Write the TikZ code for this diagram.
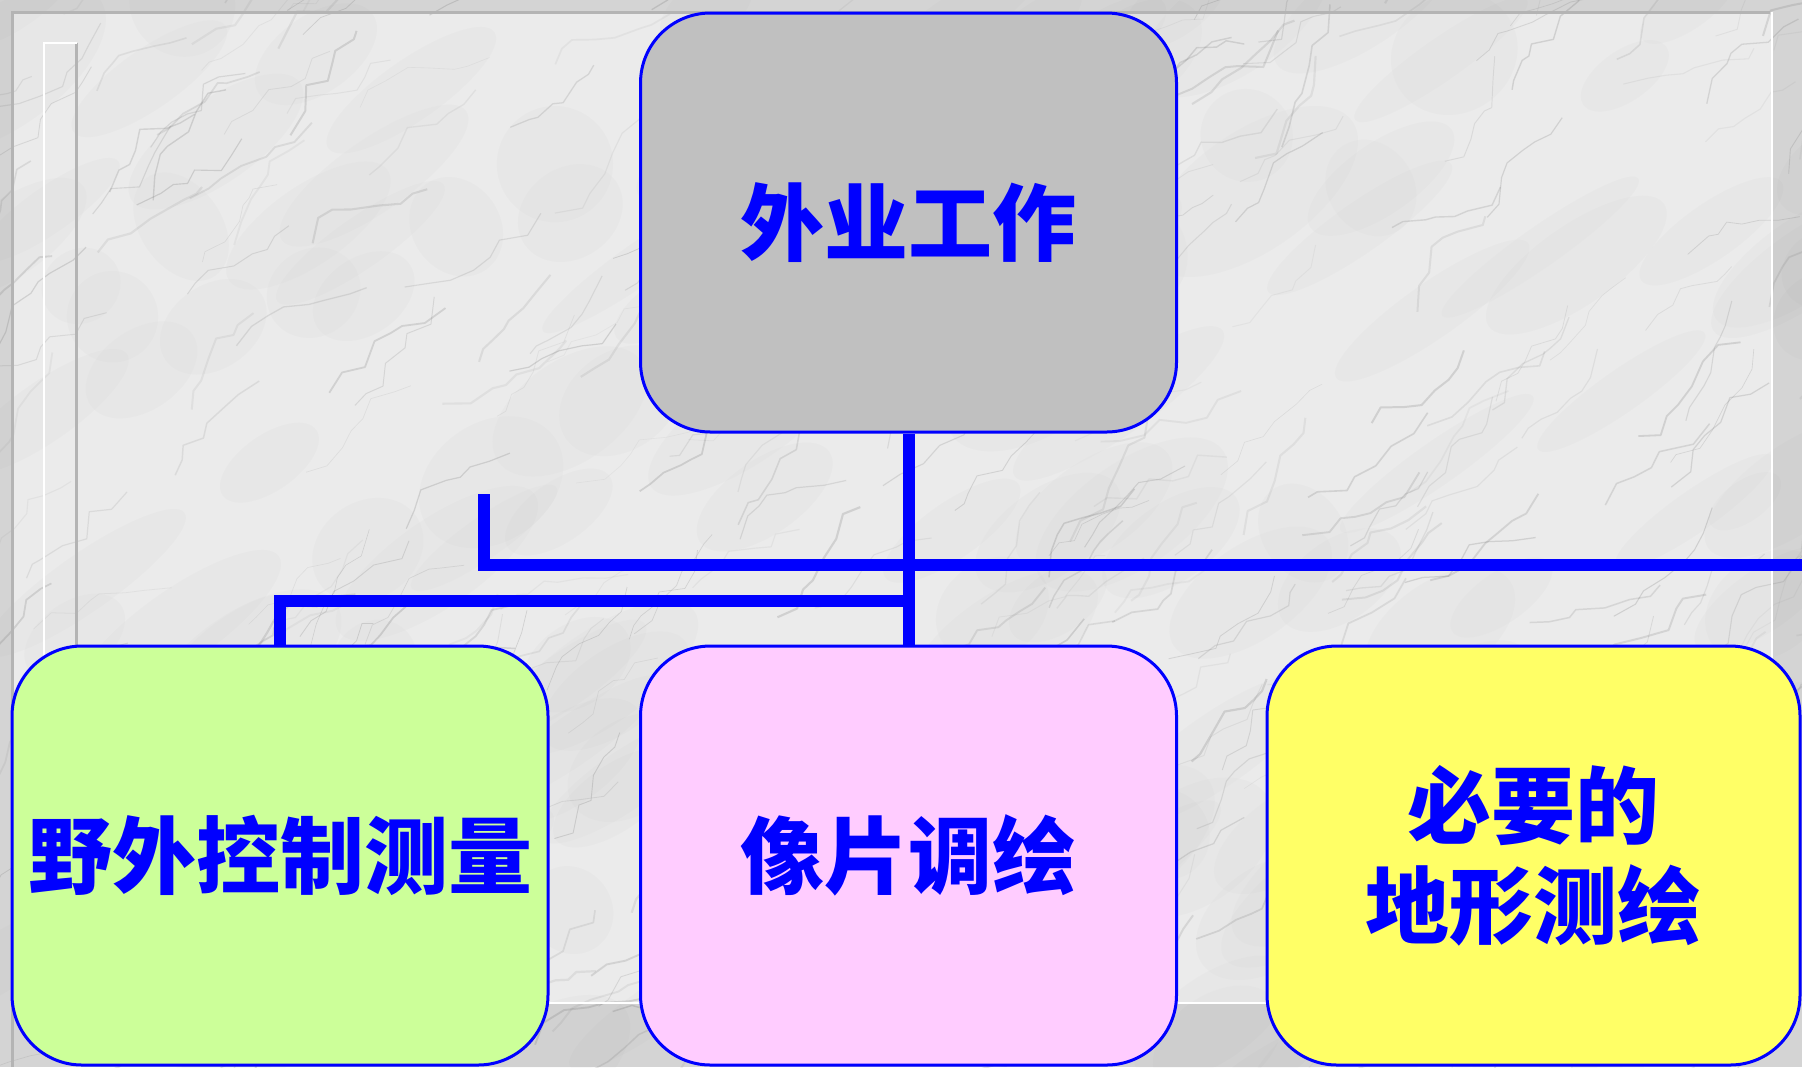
\documentclass[tikz,border=0pt]{standalone}
\usepackage{fontspec}
\newfontfamily\cjk{Noto Sans CJK SC}
\definecolor{outerbg}{HTML}{D4D4D4}
\definecolor{innerbg}{HTML}{EBEBEB}
\definecolor{frameg}{HTML}{B4B4B4}
\definecolor{boxgray}{HTML}{C0C0C0}
\definecolor{boxgreen}{HTML}{CCFF99}
\definecolor{boxpink}{HTML}{FFCCFF}
\definecolor{boxyellow}{HTML}{FFFF66}
\definecolor{vein}{HTML}{6A6A6A}
\begin{document}
\begin{tikzpicture}[x=0.5pt,y=-0.5pt,
  box/.style={draw=blue, line width=1.5pt, rounded corners=35pt,
    minimum width=268pt, minimum height=209.5pt, inner sep=0pt,
    font=\cjk\bfseries\fontsize{42}{50}\selectfont, text=blue, align=center},
  conn/.style={draw=blue, line width=6pt},
  frameline/.style={draw=frameg, line width=1.5pt},
  whiteline/.style={draw=white, line width=1.2pt}]
\useasboundingbox (0,0) rectangle (1802,1067);
% marble background
\fill[outerbg] (0,0) rectangle (1802,1067);
\fill[innerbg] (12,12) rectangle (1772,1003);
\begin{scope}
\clip (0,0) rectangle (1802,1067);
\pgfmathsetseed{11}
\foreach \i in {1,...,160}{
  \pgfmathsetmacro\xa{rnd*1850}
  \pgfmathsetmacro\ya{rnd*1100}
  \pgfmathsetmacro\ra{40+rnd*90}
  \pgfmathsetmacro\rb{20+rnd*40}
  \fill[vein, opacity=0.022, rotate around={35:(\xa,\ya)}] (\xa,\ya) ellipse [x radius=\ra, y radius=\rb];
}
\foreach \i in {1,...,380}{
  \pgfmathsetmacro\xa{rnd*1900-50}
  \pgfmathsetmacro\ya{rnd*1150-40}
  \pgfmathsetmacro\ang{-25-rnd*30}
  \pgfmathsetmacro\op{0.06+rnd*0.16}
  \pgfmathsetmacro\lw{0.3+rnd*0.8}
  \draw[vein, opacity=\op, line width=\lw pt, line join=round]
    (\xa,\ya) \foreach \k in {1,...,7}{ -- ++({\ang+rnd*70-35}:{8+rnd*22}) };
}
\end{scope}
% slide frame
\draw[frameline] (12,1067) -- (12,12) -- (1770,12);
\draw[frameline] (76,43) -- (76,1003);
\draw[whiteline] (44,1003) -- (44,43) -- (77,43);
\draw[whiteline] (12,1003) -- (1772,1003) -- (1772,12);
% boxes
\node[box, fill=boxgray] (top) at (908.5,222.5) {外业工作};
\node[box, fill=boxgreen] (left) at (280,855.5) {野外控制测量};
\node[box, fill=boxpink] (mid) at (908.5,855.5) {像片调绘};
\node[box, fill=boxyellow, minimum width=266.5pt] (right) at (1533.5,855.5) {必要的\\地形测绘};
% connectors
\coordinate (j1) at (908.5,601);
\coordinate (s1) at (484,494);
\coordinate (e1) at (1802,565);
\draw[conn] (top.south) -- (mid.north);
\draw[conn] (left.north) |- (j1);
\draw[conn] (s1) |- (e1);
\end{tikzpicture}
\end{document}
